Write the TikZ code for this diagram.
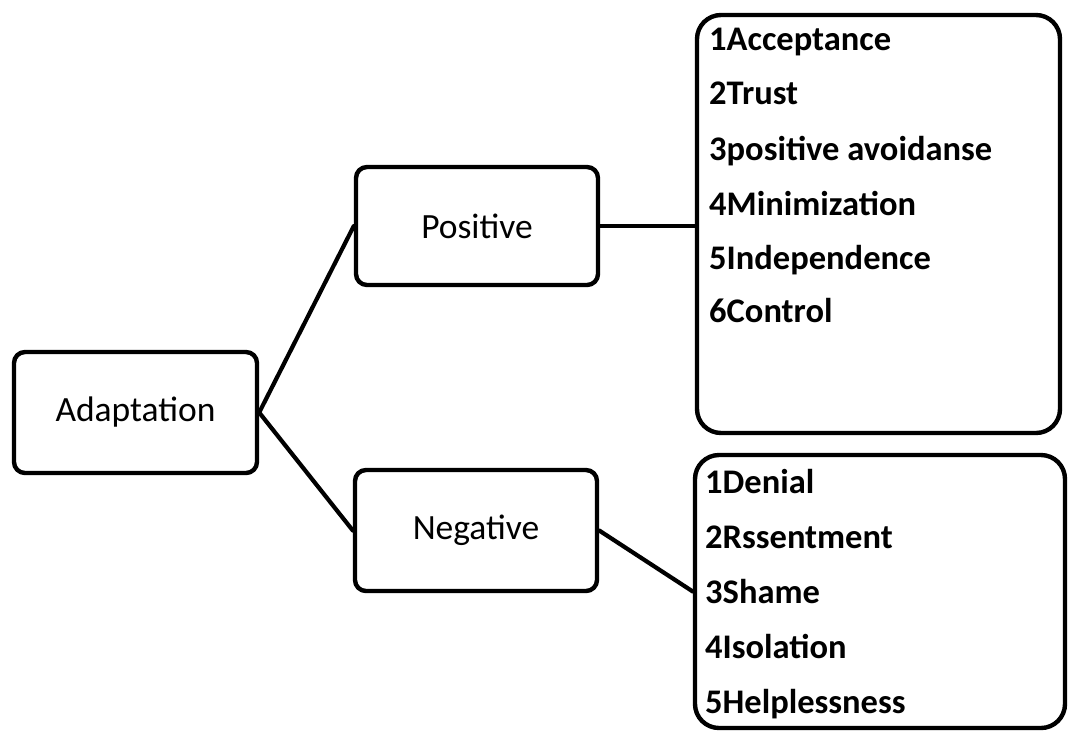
\documentclass[tikz,border=0pt]{standalone}
\usepackage{fontspec}
\setmainfont{Carlito}
\begin{document}
\begin{tikzpicture}[x=1pt,y=-1pt,
  box/.style={draw=black,line width=4.4pt,rounded corners=11pt,inner sep=0pt,
    font=\fontsize{35.5}{38}\selectfont},
  listbox/.style={draw=black,line width=4.4pt,rounded corners=24pt,inner sep=0pt},
  item/.style={anchor=base west,inner sep=0pt,font=\fontsize{34.5}{38}\selectfont\bfseries},
  link/.style={line width=4.2pt,line cap=round}]
\useasboundingbox (0,0) rectangle (1070,732);
% main boxes
\node[box,minimum width=243pt,minimum height=121pt] (adapt) at (135.5,412.5) {Adaptation};
\node[box,minimum width=242pt,minimum height=118pt] (pos) at (477,226) {Positive};
\node[box,minimum width=242pt,minimum height=121pt] (neg) at (476,530.5) {Negative};
% list boxes
\node[listbox,minimum width=363pt,minimum height=418pt] (plist) at (878.5,224) {};
\node[listbox,minimum width=370pt,minimum height=273pt] (nlist) at (880,591.5) {};
% positive items
\node[item] (p1) at (709,50) {1Acceptance};
\node[item] (p2) at (709,104) {2Trust};
\node[item] (p3) at (709,160) {3positive avoidanse};
\node[item] (p4) at (709,215) {4Minimization};
\node[item] (p5) at (709,269) {5Independence};
\node[item] (p6) at (709,322) {6Control};
% negative items
\node[item] (n1) at (705,493) {1Denial};
\node[item] (n2) at (705,548) {2Rssentment};
\node[item] (n3) at (705,603) {3Shame};
\node[item] (n4) at (705,658) {4Isolation};
\node[item] (n5) at (705,713) {5Helplessness};
% connectors
\draw[link] (adapt.east) -- (pos.west);
\draw[link] (adapt.east) -- (neg.west);
\draw[link] (pos.east) -- (pos.east -| plist.west);
\draw[link] (neg.east) -- (nlist.west);
\end{tikzpicture}
\end{document}
